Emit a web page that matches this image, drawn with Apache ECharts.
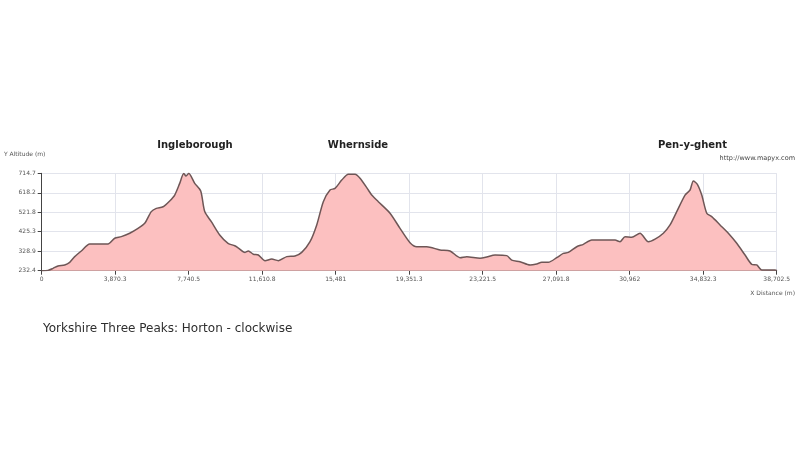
<!DOCTYPE html>
<html>
<head>
<meta charset="utf-8">
<script src="https://cdn.jsdelivr.net/npm/echarts@6/dist/echarts.min.js"></script>
<style>
  html, body { margin: 0; padding: 0; background: #fff; }
  #main { width: 800px; height: 450px; }
</style>
</head>
<body>
<div id="main"></div>
<script>
// distance along route (m)
var distance = [
  0, 330, 595, 858, 1211, 1474, 1738, 2085, 2528, 2965, 3491, 3844, 4192, 4634,
  5071, 5424, 5771, 6035, 6388, 6740, 7004, 7267, 7478, 7599, 7741, 8057, 8373,
  8584, 8931, 9373, 9811, 10164, 10337, 10706, 10881, 11144, 11407, 11759, 12112,
  12460, 12902, 13339, 13692, 14129, 14482, 14829, 15182, 15445, 15798, 16146,
  16498, 16762, 17199, 17378, 17725, 18342, 18868, 19395, 19748, 20274, 20975,
  21501, 22028, 22380, 23081, 23434, 23871, 24487, 24750, 25187, 25714, 26066,
  26330, 26677, 27120, 27467, 27731, 28173, 28520, 28963, 29399, 30189, 30453,
  30716, 31069, 31505, 31943, 32296, 32734, 33086, 33439, 33876, 34140, 34314,
  34525, 34756, 35019, 35282, 35719, 36156, 36599, 37036, 37389, 37652, 37915,
  38616, 38702.5
]
// altitude (m)
var altitude = [
  232.4, 234, 244, 256, 261, 274, 302, 330, 365, 365, 365, 393, 401, 418,
  442, 467, 525, 541, 549, 578, 607, 665, 714, 701, 714.7, 665, 627,
  525, 475, 409, 368, 356, 346, 323, 330, 314, 310, 282, 290,
  282, 302, 305, 323, 376, 459, 574, 632, 640, 681, 710,
  710, 690, 632, 607, 574, 517, 442, 371, 351, 351, 335,
  330, 297, 302, 294, 300, 310, 307, 285, 277, 261, 266,
  274, 274, 297, 318, 323, 351, 363, 384, 384, 384, 376,
  401, 398, 418, 376, 389, 418, 459, 525, 607, 632, 677,
  660, 607, 517, 500, 459, 418, 368, 310, 264, 261, 236,
  236, 234
]
var xTickLabels = ['0', '3,870.3', '7,740.5', '11,610.8', '15,481', '19,351.3',
  '23,221.5', '27,091.8', '30,962', '34,832.3', '38,702.5']
var yTickLabels = ['232.4', '328.9', '425.3', '521.8', '618.2', '714.7']
var peakNames = ['Ingleborough', 'Whernside', 'Pen-y-ghent']

var xMin = 0, xMax = 38702.5
var yMin = 232.4, yMax = 714.7
var xStep = (xMax - xMin) / (xTickLabels.length - 1)
var yStep = (yMax - yMin) / (yTickLabels.length - 1)

var points = distance.map(function (d, i) { return [d, altitude[i]] })

var myChart = echarts.init(document.getElementById('main'))
var peakX = [195, 358, 692.5]
var option = {
  backgroundColor: '#fff',
  animation: false,
  grid: { left: 41.7, right: 23.3, top: 173.3, bottom: 179.3 },
  xAxis: {
    type: 'value',
    min: xMin, max: xMax, interval: xStep,
    axisLine: { lineStyle: { color: '#444', width: 1 } },
    axisTick: { length: 4, lineStyle: { color: '#444' } },
    axisLabel: {
      fontSize: 6, color: '#555', margin: 6, fontFamily: 'DejaVu Sans',
      formatter: function (v) { return xTickLabels[Math.round((v - xMin) / xStep)] }
    },
    splitLine: { show: true, lineStyle: { color: '#e2e4ec', width: 1 } }
  },
  yAxis: {
    type: 'value',
    min: yMin, max: yMax, interval: yStep,
    axisLine: { show: true, lineStyle: { color: '#444', width: 1 } },
    axisTick: { show: true, length: 4, lineStyle: { color: '#444' } },
    axisLabel: {
      fontSize: 6, color: '#555', margin: 6, fontFamily: 'DejaVu Sans',
      formatter: function (v) { return yTickLabels[Math.round((v - yMin) / yStep)] }
    },
    splitLine: { show: true, lineStyle: { color: '#e2e4ec', width: 1 } }
  },
  series: [{
    type: 'line',
    data: points,
    showSymbol: false,
    smooth: 0.25,
    lineStyle: { color: '#6e5656', width: 1.5 },
    areaStyle: { color: '#fcc0c0', opacity: 1 }
  }],
  graphic: [
    { type: 'text', left: 4, top: 151, style: { text: 'Y Altitude (m)', fontSize: 6, fill: '#555', fontFamily: 'DejaVu Sans' } },
    { type: 'text', right: 5, top: 290, style: { text: 'X Distance (m)', fontSize: 6, fill: '#555', fontFamily: 'DejaVu Sans' } },
    { type: 'text', right: 5, top: 155, style: { text: 'http://www.mapyx.com', fontSize: 6.5, fill: '#444', fontFamily: 'DejaVu Sans' } },
    { type: 'text', left: 43, top: 323, style: { text: 'Yorkshire Three Peaks: Horton - clockwise', fontSize: 12, fill: '#2e2e2e', fontFamily: 'DejaVu Sans' } }
  ].concat(peakNames.map(function (n, i) {
    return {
      type: 'text', x: peakX[i], y: 145,
      style: { text: n, fontSize: 10, fontWeight: 'bold', fill: '#222', fontFamily: 'DejaVu Sans', align: 'center', verticalAlign: 'middle' }
    }
  }))
}
myChart.setOption(option) // 绘制画布
</script>
</body>
</html>
